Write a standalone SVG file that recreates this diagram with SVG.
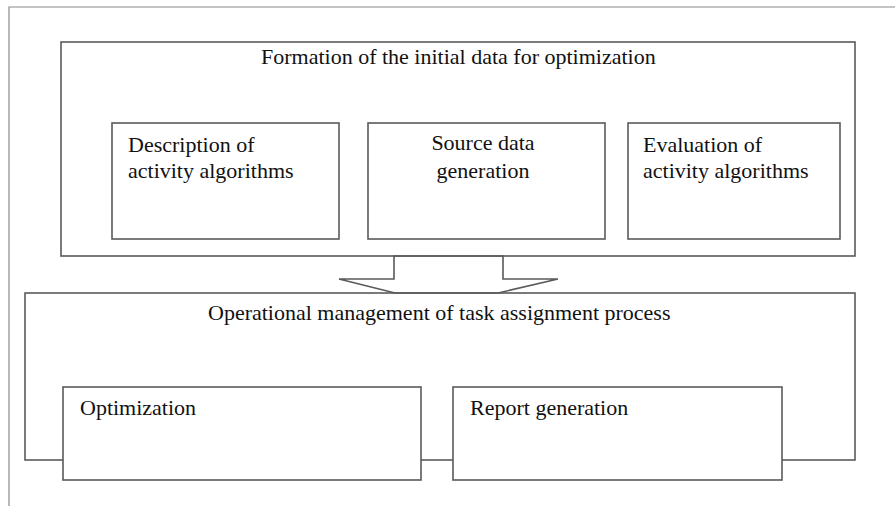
<svg xmlns="http://www.w3.org/2000/svg" width="895" height="506" viewBox="0 0 895 506">
<style>
.box{fill:#fff;stroke:#5a5a5a;stroke-width:1.6}
.frame{fill:none;stroke:#8a8a8a;stroke-width:1.2}
text{font-family:'Liberation Serif','DejaVu Serif',serif;font-size:22px;fill:#111}
.mid{text-anchor:middle}
</style>
<rect width="895" height="506" fill="#fff"/>
<path class="frame" d="M9,506 V7 H895"/>
<g id="connectors">
<polygon class="box" points="394,256 394,279 339,279 395,293 498,293 558,279 503,279 503,256"/>
</g>
<g id="formation">
<rect class="box" style="fill:none" x="61" y="42" width="794" height="214"/>
<text x="261" y="64">Formation of the initial data for optimization</text>
</g>
<g id="description">
<rect class="box" x="112" y="123" width="227" height="116"/>
<text x="128" y="152">Description of</text>
<text x="128" y="178">activity algorithms</text>
</g>
<g id="source">
<rect class="box" x="368" y="123" width="237" height="116"/>
<text class="mid" x="483" y="150">Source data</text>
<text class="mid" x="483" y="178">generation</text>
</g>
<g id="evaluation">
<rect class="box" x="628" y="123" width="212" height="116"/>
<text x="643" y="152">Evaluation of</text>
<text x="643" y="178">activity algorithms</text>
</g>
<g id="operational">
<rect class="box" style="fill:none" x="25" y="293" width="830" height="167"/>
<text x="208" y="320">Operational management of task assignment process</text>
</g>
<g id="optimization">
<rect class="box" x="63" y="387" width="358" height="93"/>
<text x="80" y="415">Optimization</text>
</g>
<g id="report">
<rect class="box" x="453" y="387" width="329" height="93"/>
<text x="470" y="415">Report generation</text>
</g>
</svg>
